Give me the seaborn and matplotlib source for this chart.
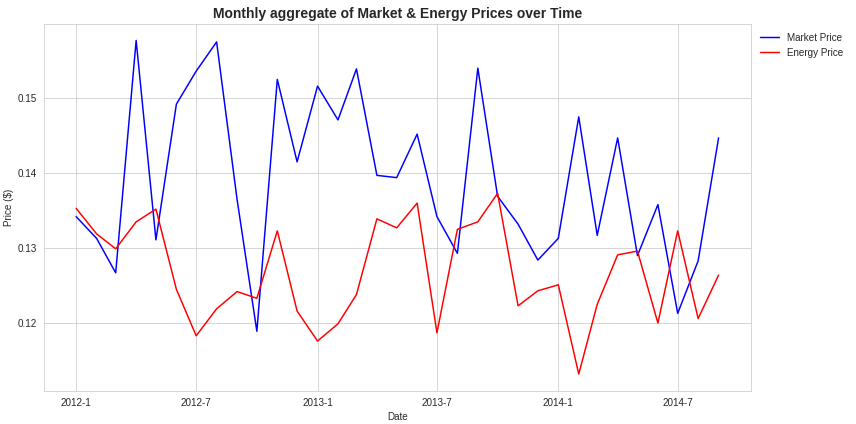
import matplotlib
matplotlib.use("Agg")
import matplotlib.pyplot as plt
import seaborn as sns
import pandas as pd

months = pd.date_range("2012-01-01", periods=33, freq="MS")
market_price = [0.1342, 0.1313, 0.1267, 0.1577, 0.1311, 0.1492, 0.1536, 0.1575, 0.1365,
                0.1189, 0.1525, 0.1415, 0.1516, 0.1471, 0.1539, 0.1397, 0.1394, 0.1452,
                0.1342, 0.1293, 0.1540, 0.1369, 0.1332, 0.1284, 0.1313, 0.1475, 0.1317,
                0.1447, 0.1290, 0.1358, 0.1213, 0.1283, 0.1447]
energy_price = [0.1353, 0.1319, 0.1299, 0.1335, 0.1352, 0.1245, 0.1183, 0.1219, 0.1242,
                0.1233, 0.1323, 0.1216, 0.1176, 0.1199, 0.1238, 0.1339, 0.1327, 0.1360,
                0.1187, 0.1325, 0.1335, 0.1373, 0.1223, 0.1243, 0.1251, 0.1132, 0.1225,
                0.1291, 0.1296, 0.1200, 0.1323, 0.1206, 0.1264]
tick_dates = ["2012-01-01", "2012-07-01", "2013-01-01", "2013-07-01", "2014-01-01", "2014-07-01"]
tick_labels = ["2012-1", "2012-7", "2013-1", "2013-7", "2014-1", "2014-7"]

sns.set_style("whitegrid")
plt.rcParams['font.family'] = ['Liberation Sans', 'DejaVu Sans']

dpi = 856 / 12
fig, ax = plt.subplots(figsize=(12, 424 / dpi), dpi=dpi)
fig.subplots_adjust(left=0.0514, right=0.877, top=0.944, bottom=0.0785)

sns.lineplot(x=months, y=market_price, color="blue", label="Market Price", ax=ax, linewidth=1.5)
sns.lineplot(x=months, y=energy_price, color="red", label="Energy Price", ax=ax, linewidth=1.5)

ax.set_xticks(pd.to_datetime(tick_dates))
ax.set_xticklabels(tick_labels)
ax.set_title("Monthly aggregate of Market & Energy Prices over Time", fontsize=14, fontweight="bold")
ax.set_xlabel("Date")
ax.set_ylabel("Price ($)")
ax.legend(loc="upper left", bbox_to_anchor=(1, 1), frameon=False)

fig.savefig("out.png", dpi=dpi)
